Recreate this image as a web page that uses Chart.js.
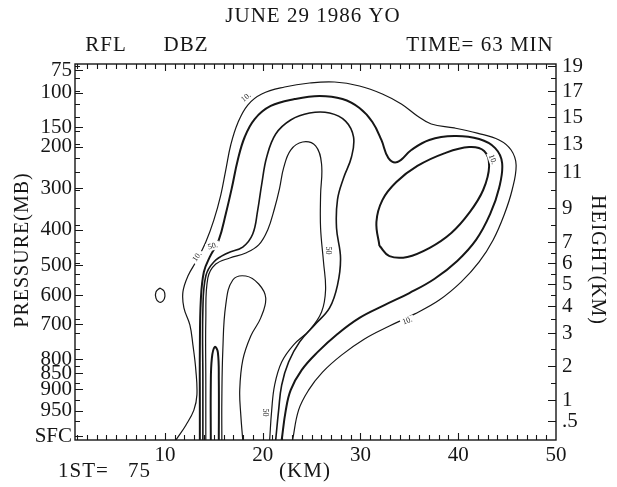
<!DOCTYPE html>
<html>
<head>
<meta charset="utf-8">
<script src="https://cdn.jsdelivr.net/npm/chart.js@4.4.1/dist/chart.umd.min.js"></script>
<style>
  html, body { margin: 0; padding: 0; background: #fff; }
  canvas { display: block; }
</style>
</head>
<body>
<canvas id="rflChart" width="617" height="487"></canvas>
<script>
// --- contour lines: distance (km) and height (km) ---
// 10 dBZ outer envelope
const c10X = [11.12,12.14,12.96,13.27,13.16,12.86,12.55,11.94,11.84,12.35,13.27,14.18,15.0,15.71,16.22,16.73,17.45,18.47,19.9,22.24,24.8,27.35,29.9,32.24,34.18,35.82,37.24,39.59,41.94,44.18,45.41,45.92,45.51,44.69,43.57,42.14,40.31,38.06,35.51,32.96,30.41,28.06,26.12,24.69,23.67,23.06];
const c10H = [0,0.39,0.76,1.15,1.88,2.64,3.30,3.93,4.64,5.38,6.14,7.0,8.29,9.72,11.14,12.93,14.56,15.92,16.77,17.32,17.64,17.72,17.4,16.77,16.0,15.08,14.48,14.19,13.81,13.3,12.57,11.5,10.0,8.59,7.12,6.05,5.1,4.27,3.70,3.26,2.82,2.33,1.82,1.29,0.76,0];
// 20 dBZ
const c20X = [13.57,13.57,13.57,13.67,13.98,14.59,15.51,16.22,16.84,17.45,18.16,19.18,20.82,23.27,25.82,28.16,29.9,31.22,32.14,32.86,33.78,35.2,37.04,39.59,42.14,43.78,44.49,44.18,43.27,41.84,39.9,37.55,35.0,32.45,29.9,27.65,25.61,23.98,22.86,22.35,21.94];
const c20H = [0,1.0,2.48,4.27,5.57,6.29,7.12,8.65,10.11,11.86,13.52,14.85,15.85,16.38,16.62,16.38,15.69,14.63,13.3,11.99,11.71,12.57,13.3,13.59,13.37,12.71,11.64,10.11,8.65,7.14,6.1,5.24,4.59,4.04,3.56,2.97,2.42,1.88,1.29,0.74,0];
// 30 dBZ, west cell and east cell
const c30aX = [13.88,13.88,13.88,14.18,15.0,16.43,17.96,18.98,19.49,19.9,20.41,21.33,22.86,24.8,26.84,28.47,29.29,29.08,28.27,27.65,27.55,27.96,27.65,26.84,25.31,23.78,22.65,21.94,21.63,21.33];
const c30aH = [0,1.59,3.85,5.38,6.05,6.48,6.76,7.47,8.88,10.33,12.07,13.74,14.78,15.31,15.31,14.7,13.52,12.07,10.67,9.47,7.82,6.24,4.95,3.93,3.30,2.73,2.12,1.44,0.76,0];
const c30bX = [31.94,31.63,32.24,33.67,35.82,38.57,41.12,42.65,43.16,42.55,41.12,39.29,37.04,34.8,32.96,31.94];
const c30bH = [6.82,8.18,9.44,10.44,11.43,12.33,12.78,12.5,11.43,10.0,8.71,7.53,6.71,6.29,6.33,6.82];
// 50 dBZ
const c50X = [14.18,14.18,14.18,14.39,15.2,16.63,18.27,19.59,20.51,21.22,21.73,22.14,22.86,24.08,25.41,26.02,25.92,25.92,26.22,26.43,26.02,24.8,23.16,21.94,21.22,20.92,20.71];
const c50H = [0,1.59,3.48,5.29,5.95,6.24,6.48,6.86,7.71,9.0,10.11,11.29,12.57,13.15,12.86,11.57,9.72,7.82,6.05,4.73,3.78,3.11,2.64,2.12,1.44,0.76,0];
// core contours near the surface
const coreX = [14.69,14.69,14.8,15.1,15.41,15.51,15.51];
const coreH = [0,1.44,2.24,2.58,2.42,1.59,0];
const pocketX = [15.82,15.82,15.92,16.22,16.94,18.27,19.59,20.31,19.8,18.78,17.96,17.65,17.76,17.96];
const pocketH = [0,1.0,2.48,4.05,5.19,5.38,5.0,4.36,3.56,2.91,2.18,1.29,0.64,0];
// small isolated cell
const cellX = [9.49,9.9,10.0,9.8,9.39,9.08,9.08,9.49];
const cellH = [4.82,4.68,4.45,4.23,4.18,4.36,4.64,4.82];

// contour value labels
const tagText = ["10.", "10.", "10.", "10.", "50.", "50", "50"];
const tagX = [18.3, 13.3, 43.5, 34.8, 14.9, 26.7, 20.2];
const tagH = [16.5, 6.3, 11.9, 3.45, 6.8, 6.6, 0.7];
const tagAngle = [-40, -55, 70, -20, -15, 90, 90];

// axes
const xLabels = [10, 20, 30, 40, 50];
const pressureLabels = ["75", "100", "150", "200", "300", "400", "500", "600", "700", "800", "850", "900", "950", "SFC"];
const pressureHeights = [18.68, 16.85, 14.26, 12.79, 10.11, 7.71, 5.9, 4.5, 3.33, 2.21, 1.79, 1.32, 0.74, 0.1];
const heightLabels = [".5", "1", "2", "3", "4", "5", "6", "7", "9", "11", "13", "15", "17", "19"];
const heightValues = [0.5, 1, 2, 3, 4, 5, 6, 7, 9, 11, 13, 15, 17, 19];
const sideTicks = [0.5,1,1.5,2,2.5,3,3.5,4,4.5,5,5.5,6,6.5,7,8,9,10,11,12,13,14,15,16,17,18,19];

// stretched vertical coordinate of the model (height km -> fraction of axis)
const heightKnots = [0, 0.5, 1, 2, 3, 4, 5, 6, 7, 9, 11, 13, 15, 17, 19, 19.15];
const fracKnots = [0, 0.0505, 0.1064, 0.1968, 0.2846, 0.3564, 0.4149, 0.4707, 0.5266, 0.617, 0.7128, 0.7872, 0.859, 0.9282, 0.9947, 1];

function interp(v, xs, ys) {
  if (v <= xs[0]) return ys[0];
  for (let i = 1; i < xs.length; i++) {
    if (v <= xs[i]) {
      const t = (v - xs[i - 1]) / (xs[i] - xs[i - 1]);
      return ys[i - 1] + t * (ys[i] - ys[i - 1]);
    }
  }
  return ys[ys.length - 1];
}

class StretchedScale extends Chart.LinearScale {
  static id = "stretched";
  static defaults = Chart.LinearScale.defaults;
  getPixelForValue(value) {
    const f = interp(value, heightKnots, fracKnots);
    return this.bottom - f * (this.bottom - this.top);
  }
  getValueForPixel(pixel) {
    return interp((this.bottom - pixel) / (this.bottom - this.top), fracKnots, heightKnots);
  }
}
Chart.register(StretchedScale);

const FONT = "Liberation Serif";
const INK = "#161616";

const pts = (xs, hs) => xs.map((x, i) => ({ x: x, y: hs[i] }));
const line = (xs, hs, w) => ({
  data: pts(xs, hs),
  showLine: true,
  borderColor: INK,
  borderWidth: w,
  pointRadius: 0,
  tension: 0.4,
  fill: false,
});

// frame, inward ticks, header/footer text, contour labels
const decor = {
  id: "decor",
  afterDraw(chart) {
    const ctx = chart.ctx;
    const a = chart.chartArea;
    const sx = chart.scales.x;
    const sy = chart.scales.y;
    ctx.save();
    ctx.strokeStyle = INK;
    ctx.lineWidth = 1.4;
    ctx.strokeRect(a.left, a.top, a.right - a.left, a.bottom - a.top);

    ctx.lineWidth = 1.1;
    ctx.beginPath();
    for (let k = 1; k < 50; k++) {
      const px = Math.round(sx.getPixelForValue(k)) + 0.5;
      const len = k % 10 === 0 ? 7 : 5;
      ctx.moveTo(px, a.bottom); ctx.lineTo(px, a.bottom - len);
      ctx.moveTo(px, a.top); ctx.lineTo(px, a.top + len);
    }
    sideTicks.forEach((h) => {
      const py = Math.round(sy.getPixelForValue(h)) + 0.5;
      ctx.moveTo(a.left, py); ctx.lineTo(a.left + 5, py);
      ctx.moveTo(a.right, py); ctx.lineTo(a.right - (heightValues.includes(h) ? 8 : 5), py);
    });
    pressureHeights.forEach((h) => {
      const py = Math.round(sy.getPixelForValue(h)) + 0.5;
      ctx.moveTo(a.left, py); ctx.lineTo(a.left + 8, py);
    });
    ctx.stroke();

    ctx.fillStyle = INK;
    ctx.textBaseline = "middle";
    ctx.font = "21px '" + FONT + "'";
    ctx.letterSpacing = "1px";
    ctx.textAlign = "center";
    ctx.fillText("JUNE 29 1986 YO", 313, 16);
    ctx.fillText("RFL", 106, 45);
    ctx.fillText("DBZ", 186, 45);
    ctx.fillText("TIME= 63 MIN", 480, 45);
    ctx.fillText("(KM)", 305, 471);
    ctx.textAlign = "left";
    ctx.fillText("1ST=", 58, 471);
    ctx.fillText("75", 128, 471);

    ctx.font = "20px '" + FONT + "'";
    ctx.textAlign = "center";
    ctx.save();
    ctx.translate(23, 250);
    ctx.rotate(-Math.PI / 2);
    ctx.fillText("PRESSURE(MB)", 0, 0);
    ctx.restore();
    ctx.save();
    ctx.translate(597, 260);
    ctx.rotate(Math.PI / 2);
    ctx.fillText("HEIGHT(KM)", 0, 0);
    ctx.restore();

    ctx.letterSpacing = "0px";
    ctx.font = "8px '" + FONT + "'";
    tagText.forEach((t, i) => {
      ctx.save();
      ctx.translate(sx.getPixelForValue(tagX[i]), sy.getPixelForValue(tagH[i]));
      ctx.rotate((tagAngle[i] * Math.PI) / 180);
      ctx.fillStyle = "#fff";
      ctx.fillRect(-7, -4, 14, 8);
      ctx.fillStyle = INK;
      ctx.fillText(t, 0, 0);
      ctx.restore();
    });
    ctx.restore();
  },
};

new Chart(document.getElementById("rflChart"), {
  type: "scatter",
  data: {
    datasets: [
      line(c10X, c10H, 1.2),
      line(c20X, c20H, 2.0),
      line(c30aX, c30aH, 1.6),
      line(c30bX, c30bH, 2.0),
      line(c50X, c50H, 1.2),
      line(coreX, coreH, 2.0),
      line(pocketX, pocketH, 1.2),
      line(cellX, cellH, 1.2),
    ],
  },
  options: {
    responsive: false,
    animation: false,
    events: [],
    layout: { padding: { top: 64, left: 0, right: 0, bottom: 0 } },
    plugins: { legend: { display: false }, tooltip: { enabled: false } },
    scales: {
      x: {
        type: "linear",
        position: "bottom",
        min: 0.8,
        max: 50,
        grid: { display: false, drawTicks: false },
        border: { display: false },
        afterBuildTicks: (s) => { s.ticks = xLabels.map((v) => ({ value: v })); },
        afterFit: (s) => { s.height = 47; },
        ticks: { autoSkip: false, maxRotation: 0, padding: 3, color: INK, font: { family: FONT, size: 21 } },
      },
      y: {
        type: "stretched",
        position: "left",
        min: 0,
        max: 19.15,
        grid: { display: false, drawTicks: false },
        border: { display: false },
        afterBuildTicks: (s) => { s.ticks = pressureHeights.map((v) => ({ value: v })); },
        afterFit: (s) => { s.width = 75; },
        ticks: { autoSkip: false, padding: 3, color: INK, font: { family: FONT, size: 21 }, callback: (v, i) => pressureLabels[i] },
      },
      y2: {
        type: "stretched",
        position: "right",
        min: 0,
        max: 19.15,
        grid: { display: false, drawTicks: false },
        border: { display: false },
        afterBuildTicks: (s) => { s.ticks = heightValues.map((v) => ({ value: v })); },
        afterFit: (s) => { s.width = 61; },
        ticks: { autoSkip: false, padding: 6, color: INK, font: { family: FONT, size: 21 }, callback: (v, i) => heightLabels[i] },
      },
    },
  },
  plugins: [decor],
});
</script>
</body>
</html>
